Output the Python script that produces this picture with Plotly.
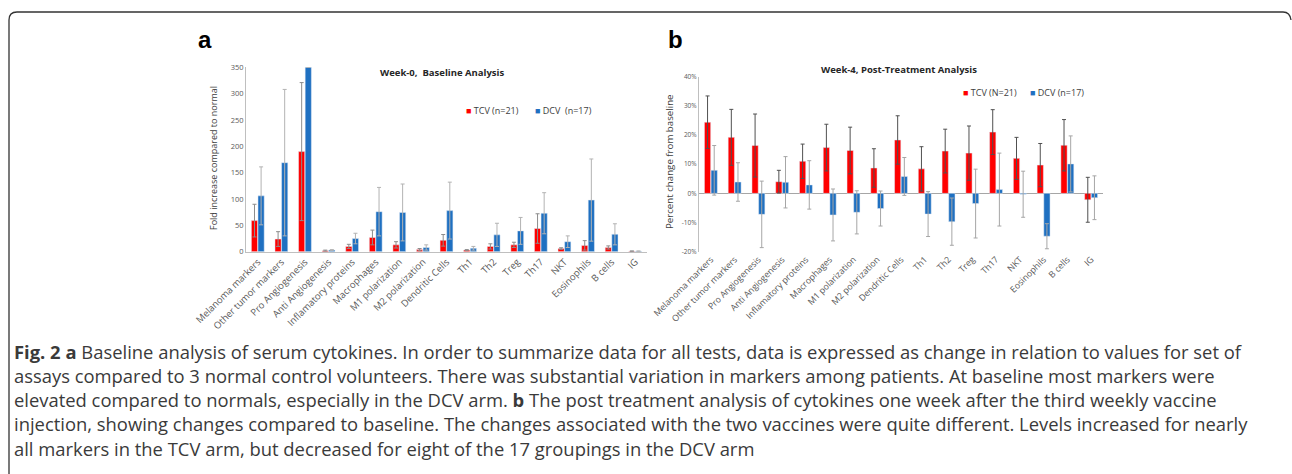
import plotly.graph_objects as go

categories = ["Melanoma markers", "Other tumor markers", "Pro Angiogenesis", "Anti Angiogenesis",
              "Inflamatory proteins", "Macrophages", "M1 polarization", "M2 polarization",
              "Dendritic Cells", "Th1", "Th2", "Treg", "Th17", "NKT", "Eosinophils", "B cells", "IG"]

# Panel a: Week-0 baseline (fold increase compared to normal)
tcv_a = [59, 24, 190, 2, 10, 27, 13, 4, 21.6, 3, 10, 13, 44, 6, 12, 8, 1]
tcv_a_err = [31, 14, 131, 1, 4, 14, 6, 2, 11, 1, 5, 5, 28, 1.5, 9, 3, 0.5]
dcv_a = [106, 169, 350, 3, 25, 76, 74.5, 8, 78, 6.5, 32, 39.5, 73, 19, 98, 33, 1]
dcv_a_err = [55, 139, 0, 1, 10, 46, 54, 5, 54, 3.5, 22, 25.5, 39, 11, 78, 20, 0.5]

# Panel b: Week-4 post-treatment (percent change from baseline)
tcv_b = [24.4, 19.2, 16.4, 4.0, 11.0, 15.7, 14.7, 8.7, 18.3, 8.4, 14.5, 13.8, 21.0, 12.0, 9.7, 16.5, -2.2]
tcv_b_err = [9.0, 9.6, 10.8, 3.9, 5.9, 8.0, 8.0, 6.6, 8.3, 7.6, 7.5, 9.3, 7.7, 7.2, 7.4, 8.8, 7.7]
dcv_b = [7.9, 3.9, -7.2, 3.8, 2.9, -7.4, -6.5, -5.2, 5.8, -7.1, -9.7, -3.5, 1.3, -0.3, -14.7, 10.1, -1.5]
dcv_b_err = [8.5, 6.6, 11.4, 8.8, 8.3, 8.9, 7.4, 6.0, 6.5, 7.7, 8.1, 11.8, 12.5, 7.9, 4.3, 9.6, 7.5]

ticks_a = [0, 50, 100, 150, 200, 250, 300, 350]
ticks_b = [-20, -10, 0, 10, 20, 30, 40]
ticklabels_b = ["-20%", "-10%", "0%", "10%", "20%", "30%", "40%"]

caption_lines = [
    "<b>Fig. 2</b> <b>a</b> Baseline analysis of serum cytokines. In order to summarize data for all tests, data is expressed as change in relation to values for set of",
    "assays compared to 3 normal control volunteers. There was substantial variation in markers among patients. At baseline most markers were",
    "elevated compared to normals, especially in the DCV arm. <b>b</b> The post treatment analysis of cytokines one week after the third weekly vaccine",
    "injection, showing changes compared to baseline. The changes associated with the two vaccines were quite different. Levels increased for nearly",
    "all markers in the TCV arm, but decreased for eight of the 17 groupings in the DCV arm",
]

RED = "#ff0000"
BLUE = "#1f70c1"
W, H = 1292, 474
FONT = "Open Sans"


def px(x):
    return x / W


def py(y):
    return 1 - y / H


fig = go.Figure()

fig.add_trace(go.Bar(x=categories, y=tcv_a, name="TCV (n=21)", marker_color=RED,
                     error_y=dict(type="data", array=tcv_a_err, color="#8c8c8c", thickness=1, width=2),
                     xaxis="x", yaxis="y", showlegend=False))
fig.add_trace(go.Bar(x=categories, y=dcv_a, name="DCV  (n=17)", marker_color=BLUE,
                     error_y=dict(type="data", array=dcv_a_err, color="#b3b3b3", thickness=1, width=2),
                     xaxis="x", yaxis="y", showlegend=False))
fig.add_trace(go.Bar(x=categories, y=tcv_b, name="TCV (N=21)", marker_color=RED,
                     error_y=dict(type="data", array=tcv_b_err, color="#505050", thickness=1, width=2),
                     xaxis="x2", yaxis="y2", showlegend=False))
fig.add_trace(go.Bar(x=categories, y=dcv_b, name="DCV (n=17)", marker_color=BLUE,
                     error_y=dict(type="data", array=dcv_b_err, color="#a6a6a6", thickness=1, width=2),
                     xaxis="x2", yaxis="y2", showlegend=False))

xcommon = dict(tickangle=-45, showgrid=False, ticks="", automargin=False)

fig.update_layout(
    width=W, height=H,
    margin=dict(l=0, r=0, t=0, b=0),
    paper_bgcolor="white", plot_bgcolor="white",
    barmode="group", bargap=0.44, bargroupgap=0.06,
    xaxis=dict(domain=[px(246), px(647)], anchor="y", showline=True, linecolor="#bfbfbf",
               linewidth=1, tickfont=dict(family=FONT, size=9.5, color="#595959"), **xcommon),
    yaxis=dict(domain=[py(251.7), py(67.3)], anchor="x", range=[0, 350], tickvals=ticks_a,
               showline=True, linecolor="#bfbfbf", linewidth=1, showgrid=False, zeroline=False,
               ticks="", tickfont=dict(family=FONT, size=7.5, color="#595959"), automargin=False),
    xaxis2=dict(domain=[px(699), px(1103)], anchor="y2", showline=False,
                tickfont=dict(family=FONT, size=8.8, color="#595959"), **xcommon),
    yaxis2=dict(domain=[py(251.7), py(76.7)], anchor="x2", range=[-20, 40], tickvals=ticks_b,
                ticktext=ticklabels_b, showline=True, linecolor="#bfbfbf", linewidth=1, showgrid=False,
                zeroline=True, zerolinecolor="#a6a6a6", zerolinewidth=1,
                ticks="", tickfont=dict(family=FONT, size=6.5, color="#595959"), automargin=False),
)

ann = []


def add(text, x, y, size, color="#404040", family=FONT, xanchor="center", angle=0):
    ann.append(dict(text=text, x=px(x), y=py(y), xref="paper", yref="paper", showarrow=False,
                    xanchor=xanchor, yanchor="middle", textangle=angle,
                    font=dict(family=family, size=size, color=color)))


# panel letters
add("<b>a</b>", 205, 40, 24, "black", "Liberation Sans")
add("<b>b</b>", 675, 40, 24, "black", "Liberation Sans")
# titles
add("<b>Week-0,  Baseline Analysis</b>", 442, 72, 9.5, "#262626")
add("<b>Week-4, Post-Treatment Analysis</b>", 899, 69, 9.5, "#262626")
# y axis titles
add("Fold increase compared to normal", 214, 158, 9, angle=-90)
add("Percent change from baseline", 669, 162, 9.7, angle=-90)
# legend-like keys
leg = [
    (464, 110, RED, "TCV (n=21)"), (533, 110, BLUE, "DCV  (n=17)"),
    (961, 93, RED, "TCV (N=21)"), (1028, 93, BLUE, "DCV (n=17)"),
]
for x, y, c, t in leg:
    add(f"<span style='color:{c}'>■</span> {t}", x, y, 9, xanchor="left")
# caption
for i, line in enumerate(caption_lines):
    add(line, 12, 351 + i * 24.3, 18.4, "#3a3a3a", xanchor="left")
fig.update_layout(annotations=ann)

# outer rounded frame
fig.add_shape(type="path", xref="paper", yref="paper",
              path=f"M {px(9)} {py(480)} L {px(9)} {py(20)} Q {px(9)} {py(12)} {px(17)} {py(12)} "
                   f"L {px(1283)} {py(12)} Q {px(1290)} {py(12)} {px(1291)} {py(20)}",
              line=dict(color="#333333", width=1.3))

fig.write_html("out.html", config={"displayModeBar": False},
               post_script="document.body.style.margin='0';document.body.style.overflow='hidden';")
